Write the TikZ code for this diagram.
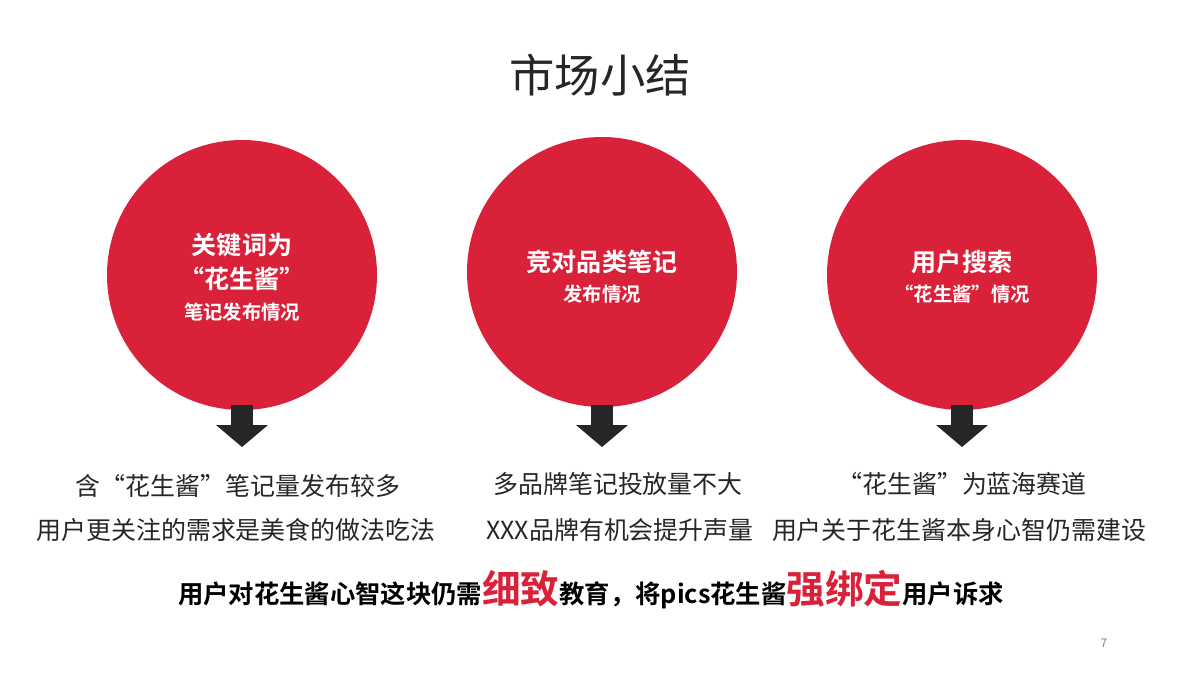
\documentclass[tikz,border=0pt]{standalone}
\usepackage{fontspec}
\setmainfont{Noto Sans CJK SC}
\newfontfamily\cjk{Noto Sans CJK SC}
\newfontfamily\cjkb{Noto Sans CJK SC Bold}
\definecolor{cred}{HTML}{D9213A}
\definecolor{dark}{HTML}{262626}
\begin{document}
\begin{tikzpicture}[x=0.75pt,y=-0.75pt,
  circ/.style={circle,fill=cred,minimum size=202.5pt,inner sep=0pt},
  hd/.style={text=white,font=\cjkb\fontsize{18.8}{26}\selectfont,align=center},
  sub/.style={text=white,font=\cjkb\fontsize{14.5}{17}\selectfont,align=center},
  body/.style={text=dark,font=\cjk\fontsize{18.7}{22}\selectfont,align=center}]
\useasboundingbox (0,0) rectangle (1200,675);
\node[text=dark,font=\cjk\fontsize{34}{40}\selectfont] (title) at (600,75) {市场小结};
\foreach \n/\x/\y in {a/242/275,b/602/272,c/962/275}{
  \node[circ] (\n) at (\x,\y) {};
  \fill[dark] (\x-11,405) rectangle (\x+11,425);
  \fill[dark] (\x-26,425) -- (\x+26,425) -- (\x,447) -- cycle;
}
\node[hd] (a1) at (242,262) {关键词为\\“花生酱”};
\node[sub] (a2) at (242,312) {笔记发布情况};
\node[hd] (b1) at (602,262) {竞对品类笔记};
\node[sub] (b2) at (602,294) {发布情况};
\node[hd] (c1) at (962,262) {用户搜索};
\node[sub] (c2) at (962,294) {“花生酱”情况};
\node[body] (ta) at (238,486) {含“花生酱”笔记量发布较多};
\node[body] (tb) at (236,530) {用户更关注的需求是美食的做法吃法};
\node[body] (tc) at (618,484) {多品牌笔记投放量不大};
\node[body] (td) at (620,530) {XXX品牌有机会提升声量};
\node[body] (te) at (962,484) {“花生酱”为蓝海赛道};
\node[body] (tf) at (959,530) {用户关于花生酱本身心智仍需建设};
\node[font=\cjkb\fontsize{19}{22}\selectfont,text=black,anchor=base] (bottom) at (591,603)
 {用户对花生酱心智这块仍需{\color{cred}\fontsize{29}{32}\selectfont 细致}教育，将pics花生酱{\color{cred}\fontsize{29}{32}\selectfont 强绑定}用户诉求};
\node[text=gray,font=\cjk\fontsize{9}{10}\selectfont] (pg) at (1104,643) {7};
\end{tikzpicture}
\end{document}
